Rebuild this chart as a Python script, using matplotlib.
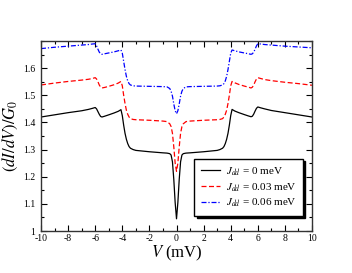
import matplotlib
matplotlib.use('Agg')
import matplotlib.pyplot as plt
from matplotlib.ticker import MultipleLocator

plt.rcParams['font.family'] = ['Liberation Serif', 'DejaVu Serif']
plt.rcParams['mathtext.fontset'] = 'stix'
plt.rcParams['axes.unicode_minus'] = False

# bias voltage (mV), shared by the three curves
V = [-10, -9, -8, -7, -6.5, -6.2, -6.0, -5.9, -5.8, -5.7, -5.6, -5.5, -5.3, -5.0,
     -4.6, -4.3, -4.1, -4.0, -3.9, -3.8, -3.7, -3.6, -3.5, -3.4, -3.2, -3.0, -2.0,
     -1.0, -0.7, -0.5, -0.4, -0.3, -0.2, -0.1, 0,
     0.1, 0.2, 0.3, 0.4, 0.5, 0.7, 1.0, 2.0, 3.0, 3.2, 3.4, 3.5, 3.6, 3.7, 3.8,
     3.9, 4.0, 4.1, 4.3, 4.6, 5.0, 5.3, 5.5, 5.6, 5.7, 5.8, 5.9, 6.0, 6.2, 6.5,
     7, 8, 9, 10]

# J_dd = 0 meV
g_0 = [1.420, 1.428, 1.436, 1.443, 1.448, 1.452, 1.455, 1.450, 1.440, 1.430, 1.422,
       1.420, 1.423, 1.428, 1.435, 1.441, 1.447, 1.425, 1.390, 1.360, 1.338, 1.322,
       1.311, 1.305, 1.300, 1.297, 1.292, 1.288, 1.287, 1.285, 1.280, 1.255, 1.190,
       1.105, 1.045,
       1.105, 1.190, 1.255, 1.280, 1.285, 1.287, 1.288, 1.292, 1.297, 1.300, 1.305,
       1.311, 1.322, 1.338, 1.360, 1.390, 1.425, 1.448, 1.442, 1.436, 1.429, 1.424,
       1.421, 1.423, 1.431, 1.442, 1.452, 1.457, 1.454, 1.450, 1.444, 1.436, 1.428,
       1.420]

# J_dd = 0.03 meV
g_003 = [1.538, 1.545, 1.551, 1.556, 1.559, 1.562, 1.565, 1.560, 1.550, 1.538, 1.530,
         1.527, 1.529, 1.533, 1.539, 1.545, 1.551, 1.535, 1.500, 1.470, 1.445, 1.430,
         1.420, 1.414, 1.411, 1.410, 1.408, 1.405, 1.403, 1.395, 1.385, 1.360, 1.310,
         1.250, 1.220,
         1.250, 1.310, 1.360, 1.385, 1.395, 1.403, 1.405, 1.408, 1.410, 1.411, 1.414,
         1.420, 1.430, 1.445, 1.470, 1.500, 1.535, 1.551, 1.546, 1.540, 1.534, 1.530,
         1.527, 1.530, 1.538, 1.550, 1.560, 1.565, 1.562, 1.558, 1.554, 1.548, 1.543,
         1.537]

# J_dd = 0.06 meV
g_006 = [1.672, 1.677, 1.681, 1.685, 1.687, 1.689, 1.690, 1.682, 1.670, 1.659, 1.653,
         1.651, 1.653, 1.656, 1.660, 1.664, 1.667, 1.655, 1.625, 1.595, 1.570, 1.553,
         1.543, 1.538, 1.535, 1.534, 1.533, 1.532, 1.531, 1.525, 1.515, 1.497, 1.468,
         1.443, 1.432,
         1.443, 1.468, 1.497, 1.515, 1.525, 1.531, 1.532, 1.533, 1.534, 1.535, 1.538,
         1.543, 1.553, 1.570, 1.595, 1.625, 1.655, 1.667, 1.664, 1.660, 1.656, 1.653,
         1.651, 1.653, 1.659, 1.670, 1.682, 1.690, 1.689, 1.687, 1.685, 1.681, 1.678,
         1.675]

labels = [r'$J_{dd}$ = 0 meV', r'$J_{dd}$ = 0.03 meV', r'$J_{dd}$ = 0.06 meV']

fig = plt.figure(figsize=(3.52, 2.73), dpi=100)
ax = fig.add_axes([0.1165, 0.1538, 0.7699, 0.696])

ax.plot(V, g_0, color='black', lw=0.9, label=labels[0])
ax.plot(V, g_003, color='red', lw=0.9, ls=(0, (4, 2)), label=labels[1])
ax.plot(V, g_006, color='blue', lw=0.9, ls=(0, (4, 1.5, 1, 1.5)), label=labels[2])

ax.set_xlim(-10, 10)
ax.set_ylim(1.0, 1.7)
ax.set_xticks([-10, -8, -6, -4, -2, 0, 2, 4, 6, 8, 10])
ax.set_yticks([1.0, 1.1, 1.2, 1.3, 1.4, 1.5, 1.6])
ax.set_yticklabels(['1', '1.1', '1.2', '1.3', '1.4', '1.5', '1.6'])
ax.xaxis.set_minor_locator(MultipleLocator(1))
ax.yaxis.set_minor_locator(MultipleLocator(0.05))
ax.tick_params(which='both', direction='in', top=True, right=True,
               labelsize=7, width=0.8)
ax.tick_params(axis='x', pad=2)
ax.tick_params(axis='y', pad=4)
ax.tick_params(which='major', length=4)
ax.tick_params(which='minor', length=2)
for s in ax.spines.values():
    s.set_linewidth(1.0)
    s.set_color('#333333')

ax.set_xlabel(r'$V$ (mV)', fontsize=12, labelpad=1)
ax.set_ylabel(r'$(dI/dV)/G_0$', fontsize=12, labelpad=2)

ax.legend(loc='lower right', bbox_to_anchor=(0.967, 0.079), borderaxespad=0,
          fontsize=8, frameon=True, fancybox=False, edgecolor='black',
          framealpha=1, handlelength=1.7, handletextpad=0.5, labelspacing=0.3,
          borderpad=0.6, shadow={'color': 'black', 'alpha': 1, 'ox': 1.5, 'oy': -1.5})

fig.savefig('out.png', dpi=100)
